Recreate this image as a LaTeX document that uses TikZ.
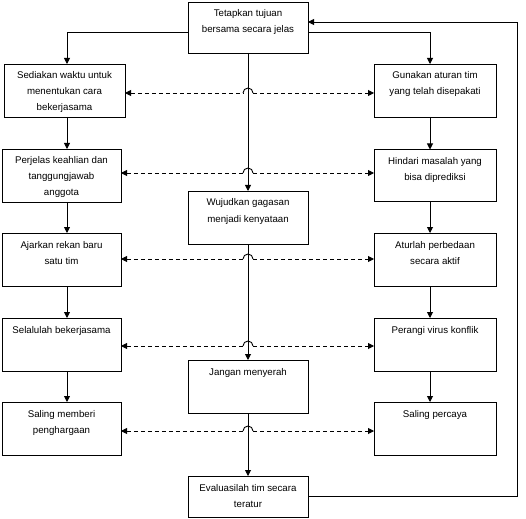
\documentclass[tikz,border=0pt]{standalone}
\usepackage{fontspec}
\setmainfont{Liberation Sans}
\usetikzlibrary{arrows.meta}
\newcommand{\bx}[3]{\parbox[c][#2pt][t]{#1pt}{\centering\fontsize{9.7}{16}\selectfont\rule{0pt}{15pt}#3\par}}
\begin{document}
\begin{tikzpicture}[x=1pt,y=-1pt,
  box/.style={draw,line width=0.9pt,inner sep=0pt,outer sep=0pt},
  arr/.style={line width=0.9pt,-{Triangle[length=6pt,width=6pt]}},
  dsh/.style={line width=0.9pt,dash pattern=on 4pt off 3pt},
  tipl/.style={{Triangle[length=6pt,width=6pt]}-},
  tipr/.style={-{Triangle[length=6pt,width=6pt]}},
  hop/.style={line width=0.9pt}]
\useasboundingbox (0,0) rectangle (526,518);
% center column
\node[box] (T) at (248,27.5) {\bx{120}{51}{Tetapkan tujuan\\bersama secara jelas}};
\node[box] (C2) at (248,217.5) {\bx{120}{53}{Wujudkan gagasan\\menjadi kenyataan}};
\node[box] (C3) at (248,386.5) {\bx{120}{53}{Jangan menyerah}};
\node[box] (C4) at (248,496.5) {\bx{120}{41}{Evaluasilah tim secara\\teratur}};
% left column
\node[box] (L1) at (64.5,90.5) {\bx{121}{53}{Sediakan waktu untuk\\menentukan cara\\bekerjasama}};
\node[box] (L2) at (61.5,175.5) {\bx{119}{53}{Perjelas keahlian dan\\tanggungjawab\\anggota}};
\node[box] (L3) at (61.5,259.5) {\bx{119}{53}{Ajarkan rekan baru\\satu tim}};
\node[box] (L4) at (61.5,344.5) {\bx{119}{53}{Selalulah bekerjasama}};
\node[box] (L5) at (61.5,428.5) {\bx{119}{53}{Saling memberi\\penghargaan}};
% right column
\node[box] (R1) at (435,90.5) {\bx{122}{53}{Gunakan aturan tim\\yang telah disepakati}};
\node[box] (R2) at (435,175.5) {\bx{122}{52}{Hindari masalah yang\\bisa diprediksi}};
\node[box] (R3) at (435,259.5) {\bx{122}{53}{Aturlah perbedaan\\secara aktif}};
\node[box] (R4) at (435,344.5) {\bx{122}{53}{Perangi virus konflik}};
\node[box] (R5) at (435,428.5) {\bx{122}{53}{Saling percaya}};
% helper coordinates
\coordinate (ax) at (67,0);
\coordinate (bx) at (430,0);
\coordinate (tl) at (0,32);
\coordinate (fbc) at (517,22);
\coordinate (h1) at (248,93);
\coordinate (h2) at (248,173);
\coordinate (h3) at (248,259);
\coordinate (h4) at (248,346);
\coordinate (h5) at (248,431);
% top branches
\draw[arr] (T.west |- tl) -| (L1.north -| ax);
\draw[arr] (T.east |- tl) -| (R1.north -| bx);
% left chain
\draw[arr] (L1.south -| ax) -- (L2.north -| ax);
\draw[arr] (L2.south -| ax) -- (L3.north -| ax);
\draw[arr] (L3.south -| ax) -- (L4.north -| ax);
\draw[arr] (L4.south -| ax) -- (L5.north -| ax);
% right chain
\draw[arr] (R1.south -| bx) -- (R2.north -| bx);
\draw[arr] (R2.south -| bx) -- (R3.north -| bx);
\draw[arr] (R3.south -| bx) -- (R4.north -| bx);
\draw[arr] (R4.south -| bx) -- (R5.north -| bx);
% center chain
\draw[arr] (T.south) -- (C2.north);
\draw[arr] (C2.south) -- (C3.north);
\draw[arr] (C3.south) -- (C4.north);
% feedback
\draw[arr] (C4.east) -| (fbc) -- (T.east |- fbc);
% dashed bidirectional links with hops
\foreach \h/\l/\r in {h1/L1/R1,h2/L2/R2,h3/L3/R3,h4/L4/R4,h5/L5/R5}{
  \draw[dsh,tipl] (\l.east |- \h) -- ([xshift=-5pt]\h);
  \draw[hop] ([xshift=-5pt]\h) arc[start angle=180,end angle=0,radius=5pt];
  \draw[dsh,tipr] ([xshift=5pt]\h) -- (\r.west |- \h);
}
\end{tikzpicture}
\end{document}
